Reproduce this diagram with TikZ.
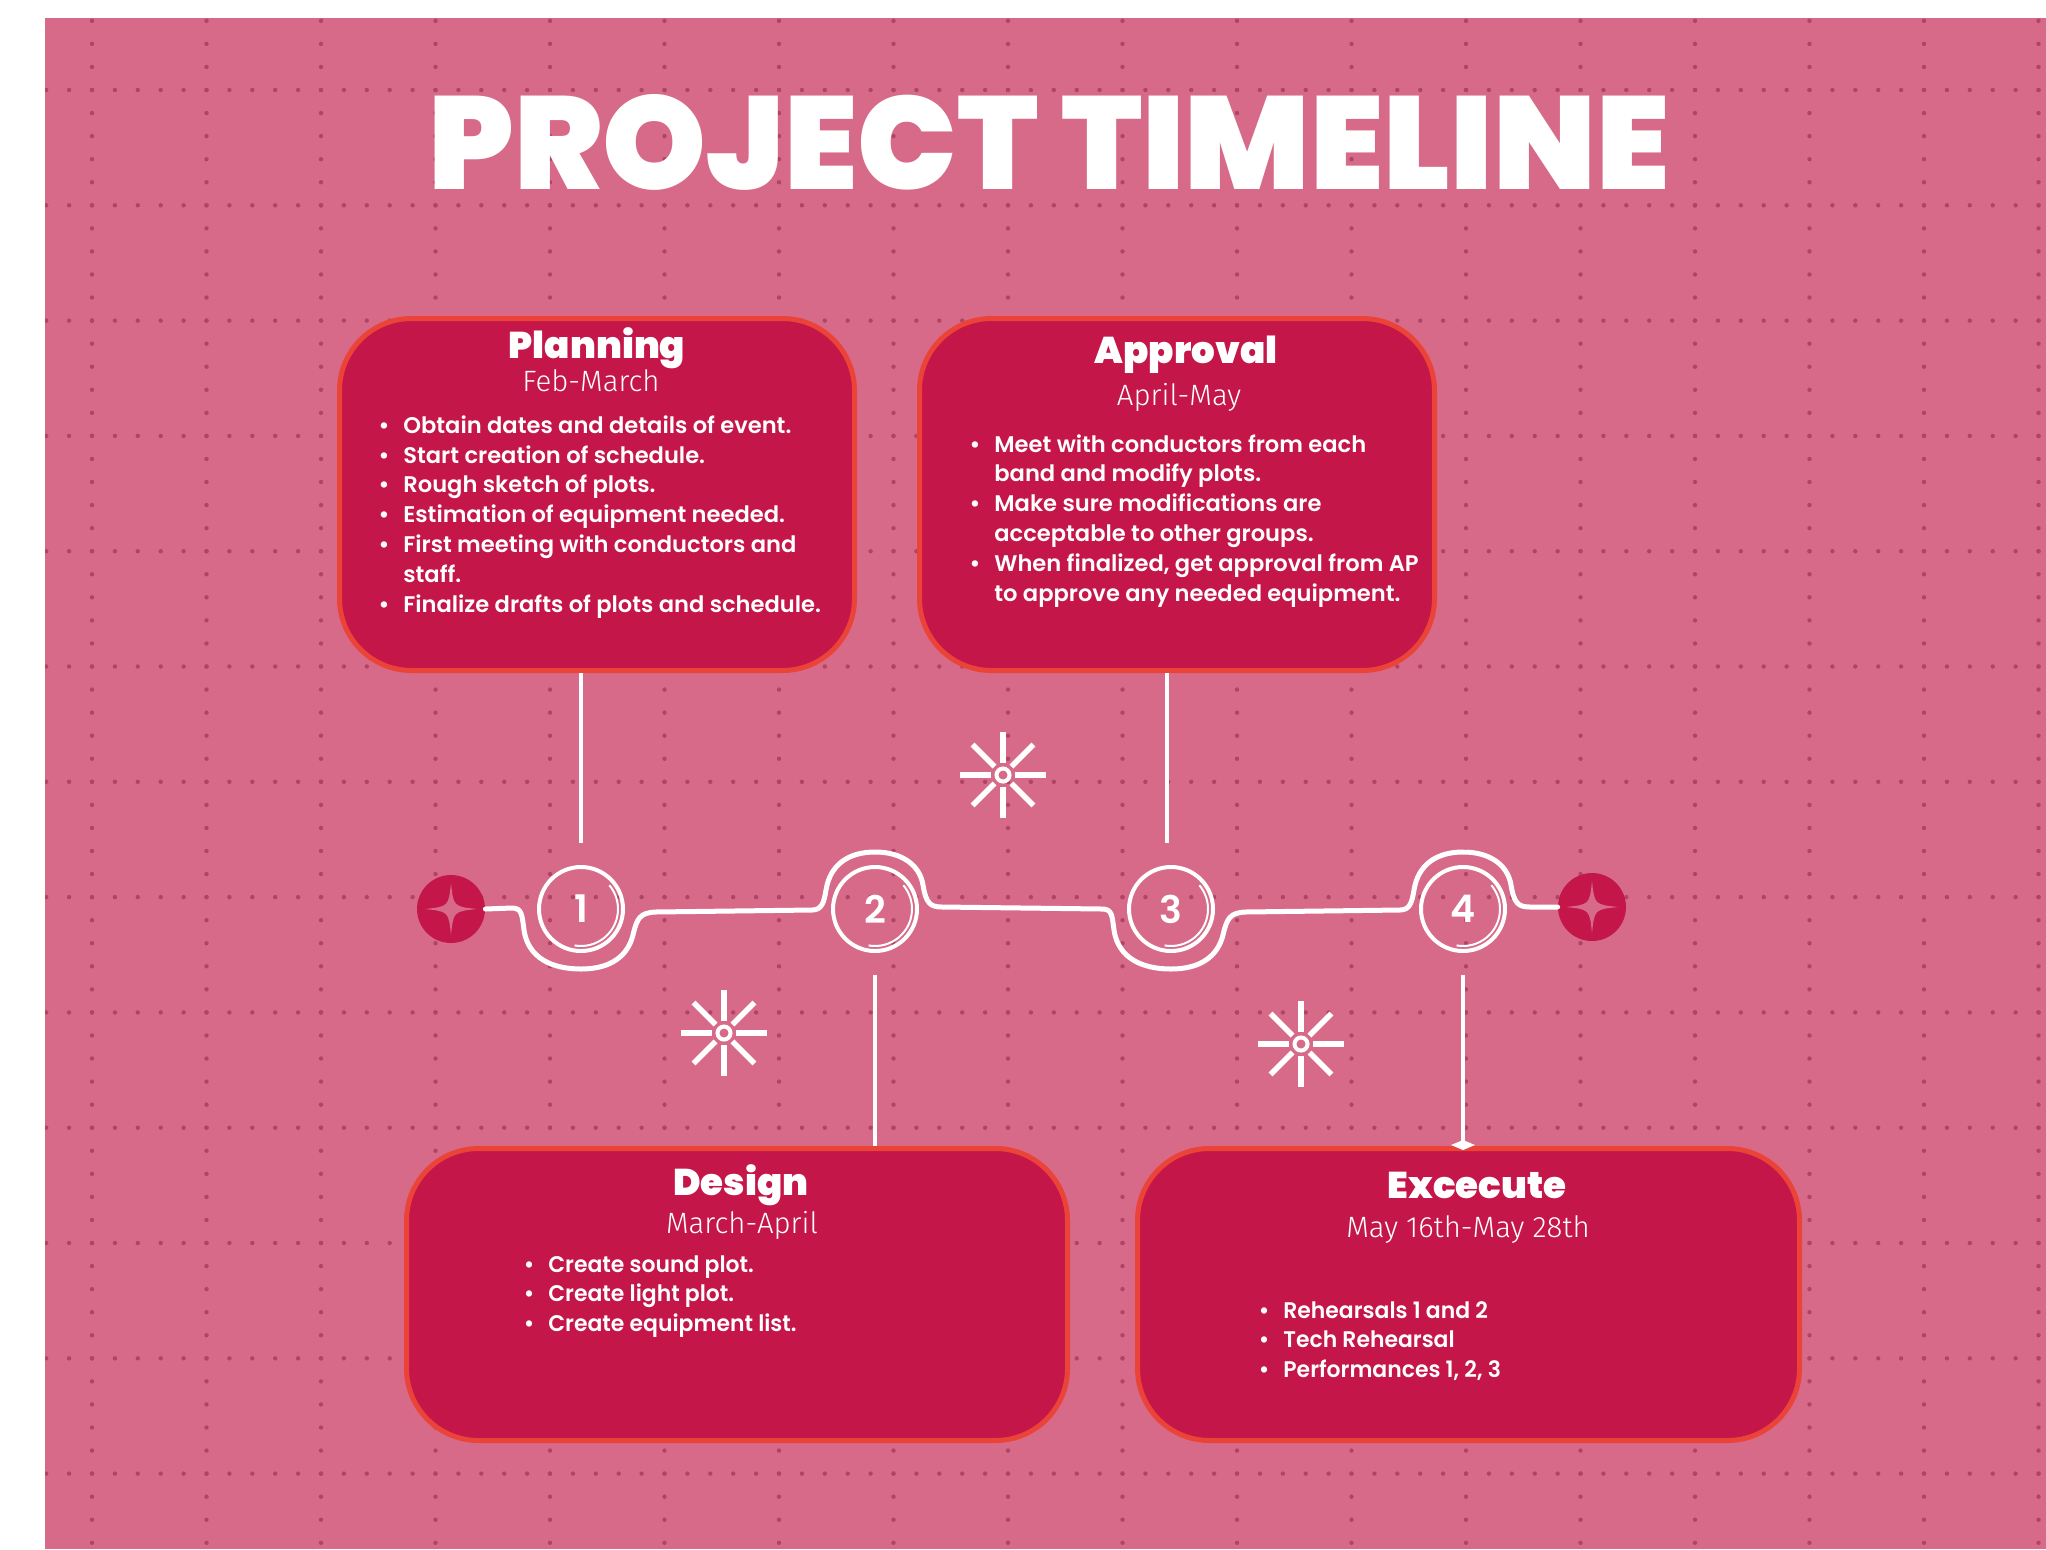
\documentclass[tikz,border=0pt]{standalone}
\usepackage{fontspec}
\usetikzlibrary{arrows.meta}

\setmainfont{Poppins}
\IfFontExistsTF{Poppins Black}{\newfontfamily\heavyfont{Poppins Black}}{%
  \IfFontExistsTF{Poppins ExtraBold}{\newfontfamily\heavyfont{Poppins ExtraBold}}{%
    \newfontfamily\heavyfont{Poppins}[FakeBold=3]}}
\IfFontExistsTF{Poppins SemiBold}{%
  \newfontfamily\bulletfont{Poppins SemiBold}%
  \newfontfamily\condfont{Poppins SemiBold}[FakeStretch=0.97]}{%
  \newfontfamily\bulletfont{Poppins}[FakeBold=1]%
  \newfontfamily\condfont{Poppins}[FakeBold=1,FakeStretch=0.97]}
\IfFontExistsTF{Fira Sans Light}{\newfontfamily\datefont{Fira Sans Light}}{%
  \newfontfamily\datefont{Fira Sans}}

\definecolor{bgpink}{HTML}{D76A88}
\definecolor{gridpink}{HTML}{B04466}
\definecolor{boxred}{HTML}{C41648}
\definecolor{boxedge}{HTML}{EC4338}

\newcommand{\bitem}{\llap{\textbullet\hspace{7pt}}}

\tikzset{
  title/.style={text=white, anchor=base, inner sep=0pt,
    font=\heavyfont\fontsize{66pt}{66pt}\selectfont},
  phasebox/.style={draw=boxedge, fill=boxred, line width=2.5pt,
    rounded corners=36pt, inner sep=0pt},
  boxhead/.style={text=white, anchor=base, inner sep=0pt,
    font=\heavyfont\fontsize{18.6pt}{20pt}\selectfont},
  boxdate/.style={text=white, anchor=base, inner sep=0pt,
    font=\datefont\fontsize{14.7pt}{16pt}\selectfont},
  % base of a multi-line node is its last line
  boxlist/.style={text=white, anchor=base west, inner sep=0pt, align=left,
    font=\bulletfont\fontsize{11.3pt}{14.9pt}\selectfont},
  condlist/.style={boxlist, font=\condfont\fontsize{11.3pt}{14.75pt}\selectfont},
  stepnum/.style={circle, draw=white, line width=2pt, minimum size=42pt,
    inner sep=0pt, text=white, font=\bulletfont\fontsize{19pt}{19pt}\selectfont},
  sketch/.style={white, line width=1pt},
  starball/.style={circle, fill=boxred, minimum size=34pt, inner sep=0pt},
  timeline/.style={white, line width=2.5pt, line cap=round, line join=round},
  link/.style={white, line width=2pt},
  sparkle/.pic={
    \fill[bgpink] (0,-26) .. controls (2.5,-2.5) .. (26,0)
      .. controls (2.5,2.5) .. (0,26) .. controls (-2.5,2.5) .. (-26,0)
      .. controls (-2.5,-2.5) .. cycle;
  },
  asterisk/.pic={
    \draw[white, line width=2pt] (0,0) circle[radius=6.5];
    \foreach \a in {0,45,...,315}
      \draw[white, line width=2.8pt] (\a:12) -- (\a:43);
  }
}

\begin{document}
\begin{tikzpicture}[x=0.5pt, y=-0.5pt]
  \useasboundingbox (0,0) rectangle (2046,1549);
  \fill[bgpink] (45,18) rectangle (2046,1549);

  % dotted grid
  \begin{scope}
    \clip (45,18) rectangle (2046,1549);
    \fill[gridpink] \foreach \gx in {0,...,17} {\foreach \k in {-4,...,64}
      {(92+114.5*\gx, 90+23.06*\k) circle[radius=2.2]}};
    \fill[gridpink] \foreach \gy in {0,...,12} {\foreach \k in {-3,...,86}
      {(92+22.9*\k, 90+115.3*\gy) circle[radius=2.2]}};
  \end{scope}

  \node[title] (ttl) at (1049,189) {PROJECT TIMELINE};

  % phase boxes
  \node[phasebox, minimum width=257.5pt, minimum height=176pt] (plan) at (597,494.5) {};
  \node[phasebox, minimum width=257.5pt, minimum height=176pt] (appr) at (1177,494.5) {};
  \node[phasebox, minimum width=330.5pt, minimum height=146pt] (des) at (737,1294.5) {};
  \node[phasebox, minimum width=331pt, minimum height=146pt] (exe) at (1468.5,1294.5) {};

  \node[boxhead] (planhead) at (597,358) {Planning};
  \node[boxdate] (plandate) at (591,391) {Feb-March};
  \node[boxlist] (planlist) at (403,612) {\bitem Obtain dates and details of event.\\
    \bitem Start creation of schedule.\\
    \bitem Rough sketch of plots.\\
    \bitem Estimation of equipment needed.\\
    \bitem First meeting with conductors and\\
    staff.\\
    \bitem Finalize drafts of plots and schedule.};

  \node[boxhead] (apprhead) at (1186,363) {Approval};
  \node[boxdate] (apprdate) at (1179,405) {April-May};
  \node[boxlist] (apprlist) at (994,601) {\bitem Meet with conductors from each\\
    band and modify plots.\\
    \bitem Make sure modifications are\\
    acceptable to other groups.\\
    \bitem When finalized, get approval from AP\\
    to approve any needed equipment.};

  \node[boxhead] (deshead) at (741,1195) {Design};
  \node[boxdate] (desdate) at (742,1233) {March-April};
  \node[condlist] (deslist) at (548,1331) {\bitem Create sound plot.\\
    \bitem Create light plot.\\
    \bitem Create equipment list.};

  \node[boxhead] (exehead) at (1477,1198) {Excecute};
  \node[boxdate] (exedate) at (1468,1237) {May 16th-May 28th};
  \node[condlist] (exelist) at (1283,1377) {\bitem Rehearsals 1 and 2\\
    \bitem Tech Rehearsal\\
    \bitem Performances 1, 2, 3};

  % timeline
  \node[starball] (lstar) at (451,909) {};
  \node[starball] (rstar) at (1592,907) {};
  \pic at (lstar) {sparkle};
  \pic at (rstar) {sparkle};

  \node[stepnum] (c1) at (581,909) {1};
  \node[stepnum] (c2) at (875,909) {2};
  \node[stepnum] (c3) at (1171,909) {3};
  \node[stepnum] (c4) at (1463,909) {4};
  \foreach \c in {c1,c2,c3,c4}
    \draw[sketch] (\c) ++(-40:37) arc[start angle=-40, end angle=100, radius=37];

  \draw[timeline] (lstar.east) -- (512,908)
    .. controls (522,908) and (522,915) .. (524,930)
    .. controls (528,958) and (552,969) .. (581,969)
    .. controls (612,969) and (628,955) .. (633,935)
    .. controls (637,918) and (640,913) .. (655,912) -- (812,910)
    .. controls (822,910) and (824,902) .. (826,890)
    .. controls (830,865) and (848,852) .. (875,852)
    .. controls (903,852) and (920,866) .. (923,885)
    .. controls (926,903) and (930,907) .. (942,907) -- (1102,909)
    .. controls (1112,909) and (1112,915) .. (1114,930)
    .. controls (1118,958) and (1142,969) .. (1171,969)
    .. controls (1202,969) and (1218,955) .. (1223,935)
    .. controls (1227,918) and (1230,913) .. (1245,912) -- (1400,910)
    .. controls (1410,910) and (1412,902) .. (1414,890)
    .. controls (1418,865) and (1436,852) .. (1463,852)
    .. controls (1491,852) and (1508,866) .. (1511,885)
    .. controls (1514,903) and (1518,907) .. (1530,907) -- (rstar.west);

  % links to the boxes
  \draw[link, shorten <=11pt] (c1.north) -- (c1 |- plan.south);
  \draw[link, shorten <=11pt] ([xshift=-2pt]c3.north) -- ([xshift=-2pt]c3 |- appr.south);
  \draw[link, shorten <=11pt] (c2.south) -- (c2 |- des.north);
  \draw[link, shorten <=11pt, -{Diamond[length=5pt,width=12pt]}] (c4.south) -- ([yshift=-2pt]c4 |- exe.north);

  \pic at (1003,775) {asterisk};
  \pic at (724,1033) {asterisk};
  \pic at (1301,1044) {asterisk};
\end{tikzpicture}
\end{document}
